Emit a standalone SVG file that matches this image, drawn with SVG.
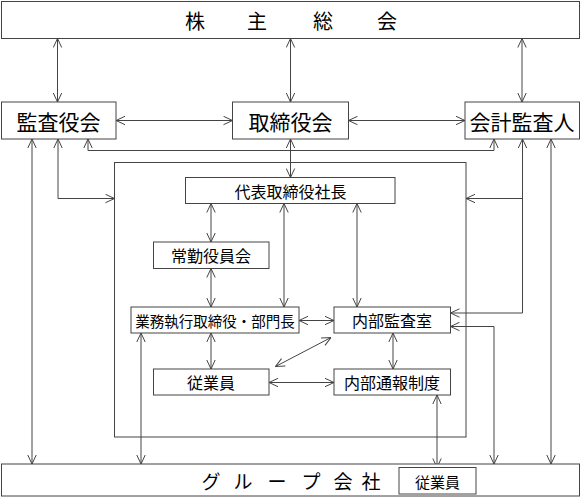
<svg xmlns="http://www.w3.org/2000/svg" width="581" height="499" viewBox="0 0 581 499">
<style>
.box{fill:#fff;stroke:#444;stroke-width:1}
.frame{fill:none;stroke:#444;stroke-width:1}
.t{font-family:"Noto Sans CJK JP","Noto Sans CJK SC",sans-serif;fill:#000;text-anchor:middle;dominant-baseline:central}
.big{font-size:21px}
.mid{font-size:16px}
.c{fill:none;stroke:#444;stroke-width:1}
.b{marker-start:url(#ah);marker-end:url(#ah)}
.e{marker-end:url(#ah)}
</style>
<defs>
<marker id="ah" viewBox="0 0 10 10" refX="10" refY="5" markerWidth="10" markerHeight="10" markerUnits="userSpaceOnUse" orient="auto-start-reverse">
<path d="M1,0.8 L10,5 L1,9.2" fill="none" stroke="#444" stroke-width="1"/>
</marker>
</defs>
<rect class="frame" x="114.5" y="162.5" width="351.5" height="274.5"/>
<g id="connectors">
<path class="c b" d="M57.5,38.5 V102"/>
<path class="c b" d="M290.5,38.5 V102"/>
<path class="c b" d="M522,38.5 V102"/>
<path class="c b" d="M116,120.5 H232.5"/>
<path class="c b" d="M348.5,120.5 H465"/>
<path class="c b" d="M290.5,139 V177.5"/>
<path class="c b" d="M88,139 V150.5 H494 V139"/>
<path class="c b" d="M58,139 V198.5 H114.5"/>
<path class="c b" d="M32,139 V464"/>
<path class="c b" d="M522.5,139 V313 H450.5"/>
<path class="c e" d="M522.5,198.5 H466"/>
<path class="c b" d="M551,139 V464"/>
<path class="c b" d="M450.5,326.5 H494 V464"/>
<path class="c b" d="M211,203.5 V242"/>
<path class="c b" d="M284,203.5 V307"/>
<path class="c b" d="M357,203.5 V307"/>
<path class="c b" d="M211,268.5 V307"/>
<path class="c b" d="M299,320.5 H334"/>
<path class="c b" d="M211,333 V369"/>
<path class="c b" d="M331,337.5 L275.5,366.5"/>
<path class="c b" d="M269,382.5 H334"/>
<path class="c b" d="M393,333 V369"/>
<path class="c b" d="M437,395 V467.5"/>
<path class="c b" d="M141,333 V464"/>
</g>
<g id="kabunushi">
<rect class="box" x="1.5" y="1.5" width="578" height="37"/>
<text class="t" x="0" y="20" style="font-size:20px"><tspan x="195">株</tspan><tspan x="257">主</tspan><tspan x="323">総</tspan><tspan x="387">会</tspan></text>
</g>
<g id="kansayakukai">
<rect class="box" x="1.5" y="102" width="114.5" height="37"/>
<text class="t big" x="58.5" y="120.5">監査役会</text>
</g>
<g id="torishimariyakukai">
<rect class="box" x="232.5" y="102" width="116" height="37"/>
<text class="t big" x="290.5" y="120.5">取締役会</text>
</g>
<g id="kaikeikansanin">
<rect class="box" x="465" y="102" width="114.5" height="37"/>
<text class="t big" x="522" y="120.5">会計監査人</text>
</g>
<g id="daihyo">
<rect class="box" x="185.5" y="177.5" width="209.5" height="26"/>
<text class="t mid" x="290.5" y="190.5">代表取締役社長</text>
</g>
<g id="jokin">
<rect class="box" x="153.5" y="242" width="115.5" height="26.5"/>
<text class="t mid" x="211" y="255">常勤役員会</text>
</g>
<g id="gyomu">
<rect class="box" x="131" y="307" width="168" height="26"/>
<text class="t" x="215" y="320" style="font-size:14.5px">業務執行取締役・部門長</text>
</g>
<g id="naibukansa">
<rect class="box" x="334" y="307" width="116.5" height="26"/>
<text class="t mid" x="392" y="320">内部監査室</text>
</g>
<g id="jugyoin">
<rect class="box" x="153.5" y="369" width="115.5" height="26"/>
<text class="t mid" x="211" y="382">従業員</text>
</g>
<g id="naibutsuho">
<rect class="box" x="334" y="369" width="116.5" height="26"/>
<text class="t mid" x="392" y="382">内部通報制度</text>
</g>
<g id="group">
<rect class="box" x="1.5" y="464" width="578" height="32"/>
<text class="t" x="0" y="480" style="font-size:19px"><tspan x="211">グ</tspan><tspan x="243">ル</tspan><tspan x="277">ー</tspan><tspan x="311">プ</tspan><tspan x="343">会</tspan><tspan x="371">社</tspan></text>
</g>
<g id="group-jugyoin">
<rect class="box" x="399" y="467.5" width="77" height="26.5"/>
<text class="t" x="437.5" y="481" style="font-size:15px">従業員</text>
</g>
</svg>
